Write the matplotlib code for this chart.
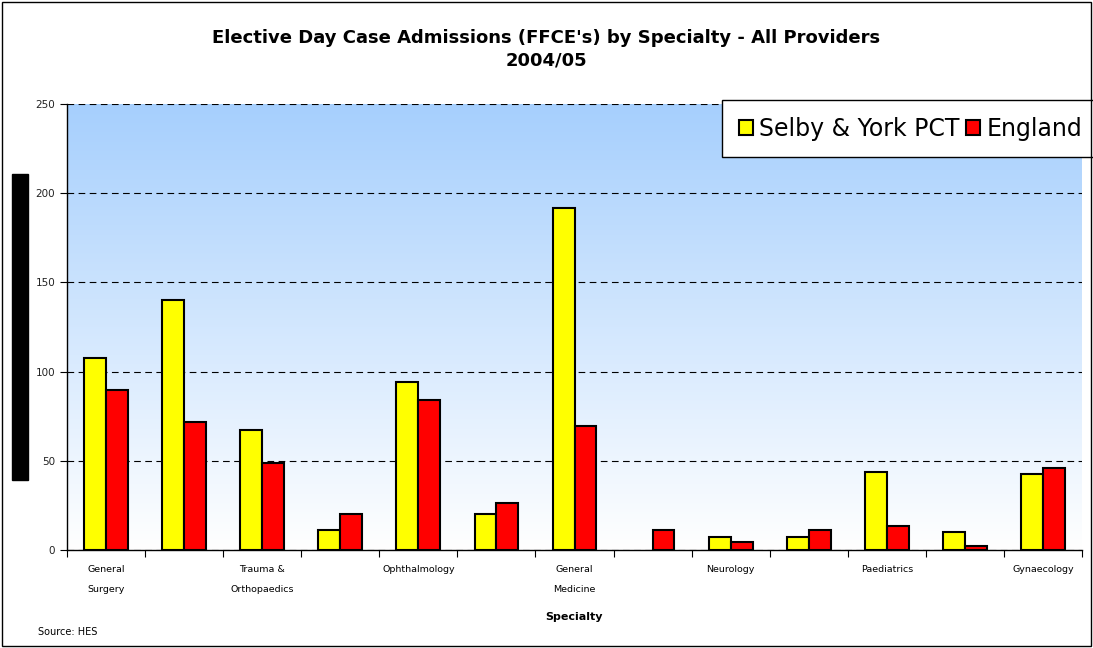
import numpy as np
import matplotlib
matplotlib.use("Agg")
import matplotlib.pyplot as plt
from matplotlib.patches import Rectangle
from matplotlib.colors import LinearSegmentedColormap

plt.rcParams["font.family"] = ["DejaVu Sans"]

categories = ["General\nSurgery", "", "Trauma &\nOrthopaedics", "", "Ophthalmology", "",
              "General\nMedicine", "", "Neurology", "", "Paediatrics", "", "Gynaecology"]
selby = [107.5, 140, 67, 11, 94, 20, 191.5, 0, 7.5, 7.5, 43.5, 10, 42.5]
england = [89.5, 71.5, 49, 20, 84, 26.5, 69.5, 11, 4.5, 11, 13.5, 2.5, 46]
series_names = ["Selby & York PCT", "England"]
title = "Elective Day Case Admissions (FFCE's) by Specialty - All Providers\n2004/05"
yticks = [0, 50, 100, 150, 200, 250]

fig = plt.figure(figsize=(10.93, 6.48), dpi=100)
W, H = 1093, 648
ax = fig.add_axes([67 / W, 1 - 550 / H, (1082 - 67) / W, (550 - 104) / H])

n = len(categories)
x = np.arange(n)
ax.set_xlim(-0.5, n - 0.5)
ax.set_ylim(0, 250)

grad = np.linspace(0, 1, 256).reshape(-1, 1)
cmap = LinearSegmentedColormap.from_list("bg", ["#ffffff", "#a6cffd"])
ax.imshow(grad, extent=[-0.5, n - 0.5, 0, 250], origin="lower", aspect="auto",
          cmap=cmap, zorder=0)

w = 0.28
b1 = ax.bar(x - w / 2, selby, w, color="#ffff00", edgecolor="black", linewidth=1.5,
            label=series_names[0], zorder=3)
b2 = ax.bar(x + w / 2, england, w, color="#ff0000", edgecolor="black", linewidth=1.5,
            label=series_names[1], zorder=3)
for bars in (b1, b2):
    for r in bars:
        if r.get_height() == 0:
            r.set_visible(False)

ax.set_yticks(yticks)
ax.set_yticklabels([str(v) for v in yticks], fontsize=7.5, color="#222222")
ax.yaxis.grid(True, linestyle=(0, (6, 4)), color="black", linewidth=0.8, zorder=1)
ax.set_axisbelow(False)
ax.set_xticks(np.arange(n + 1) - 0.5, minor=False)
ax.set_xticklabels([])
ax.set_xticks(x, minor=True)
ax.set_xticklabels(categories, minor=True, fontsize=6.8, linespacing=2.5)
ax.tick_params(axis="x", which="minor", length=0, pad=11)
ax.tick_params(axis="x", which="major", length=5, direction="out")
ax.tick_params(axis="y", length=5, direction="out")
for s in ["top", "right"]:
    ax.spines[s].set_visible(False)
for s in ["left", "bottom"]:
    ax.spines[s].set_linewidth(1.0)

ax.set_xlabel("Specialty", fontsize=8, fontweight="bold", labelpad=13)

fig.text(0.5, 1 - 49 / H, title, ha="center", va="center", fontsize=13,
         fontweight="bold", linespacing=1.35)
fig.text(38 / W, 1 - 632 / H, "Source: HES", fontsize=7, ha="left", va="center")

leg = ax.legend(loc="upper left", bbox_to_anchor=(722 / W, 1 - 100 / H),
                bbox_transform=fig.transFigure, ncol=2, fontsize=17, frameon=True,
                fancybox=False, edgecolor="black", handlelength=0.6, handleheight=0.6,
                handletextpad=0.25, columnspacing=0.3, borderpad=0.7, borderaxespad=0,
                framealpha=1.0)
leg.get_frame().set_linewidth(1.0)
leg.get_frame().set_facecolor("white")
leg.set_zorder(5)

fig.patches.append(Rectangle((12 / W, 1 - 480 / H), 16 / W, 306 / H,
                             transform=fig.transFigure, color="black"))
fig.patches.append(Rectangle((2 / W, 2 / H), 1 - 4 / W, 1 - 4 / H, transform=fig.transFigure,
                             fill=False, edgecolor="black", linewidth=1.0))

fig.savefig("out.png", dpi=100)
